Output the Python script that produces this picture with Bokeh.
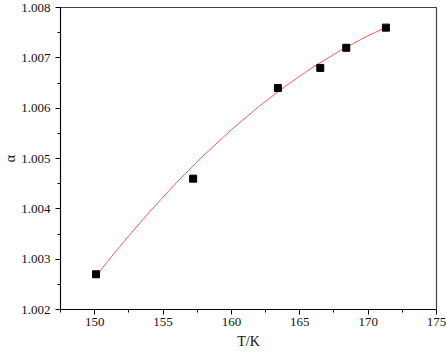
from bokeh.plotting import figure
from bokeh.models import FixedTicker, Range1d, PrintfTickFormatter
from bokeh.embed import file_html
from bokeh.resources import INLINE

# measured points
T = [150.1, 157.2, 163.4, 166.5, 168.4, 171.3]
alpha = [1.0027, 1.0046, 1.0064, 1.0068, 1.0072, 1.0076]

# fitted curve
T_fit = [150.1, 152, 154, 156, 158, 160, 162, 164, 166, 168, 170, 171.4]
alpha_fit = [1.00267, 1.003306, 1.003937, 1.004525, 1.005070, 1.005572,
             1.006031, 1.006448, 1.006821, 1.007152, 1.007441, 1.007617]

x_ticks = [150, 155, 160, 165, 170, 175]
x_minor = [147.5, 152.5, 157.5, 162.5, 167.5, 172.5]
y_ticks = [1.002, 1.003, 1.004, 1.005, 1.006, 1.007, 1.008]
y_minor = [1.0025, 1.0035, 1.0045, 1.0055, 1.0065, 1.0075]

FONT = "Liberation Serif"

p = figure(width=447, height=354, output_backend="svg", toolbar_location=None,
           x_range=Range1d(147.5, 175), y_range=Range1d(1.002, 1.008),
           min_border_left=59, min_border_right=11, min_border_top=7,
           min_border_bottom=45)

p.xgrid.visible = False
p.ygrid.visible = False
p.outline_line_color = "#444444"
p.outline_line_width = 1.2
p.background_fill_color = "white"

p.line(T_fit, alpha_fit, line_color="#ff3030", line_width=1, line_alpha=0.8)
p.scatter(T, alpha, marker="square", size=7, fill_color="black", line_color="black")

p.xaxis.ticker = FixedTicker(ticks=x_ticks, minor_ticks=x_minor)
p.yaxis.ticker = FixedTicker(ticks=y_ticks, minor_ticks=y_minor)
p.yaxis.formatter = PrintfTickFormatter(format="%.3f")

for ax in (p.xaxis[0], p.yaxis[0]):
    ax.axis_line_color = "black"
    ax.axis_line_width = 1
    ax.major_tick_line_color = "black"
    ax.minor_tick_line_color = "black"
    ax.major_tick_out = 5
    ax.major_tick_in = 0
    ax.minor_tick_out = 3
    ax.minor_tick_in = 0
    ax.major_label_text_font = FONT
    ax.major_label_text_font_size = "13px"
    ax.major_label_text_color = "#111111"
    ax.axis_label_text_font = FONT
    ax.axis_label_text_font_size = "14px"
    ax.axis_label_text_font_style = "normal"
    ax.axis_label_text_color = "#111111"

p.xaxis.axis_label = "T/K"
p.xaxis.axis_label_standoff = 5
p.yaxis.axis_label = "α"
p.yaxis.axis_label_standoff = 0
p.xaxis.major_label_standoff = 3
p.yaxis.major_label_standoff = 5

open("out.html", "w").write(file_html(p, INLINE))
